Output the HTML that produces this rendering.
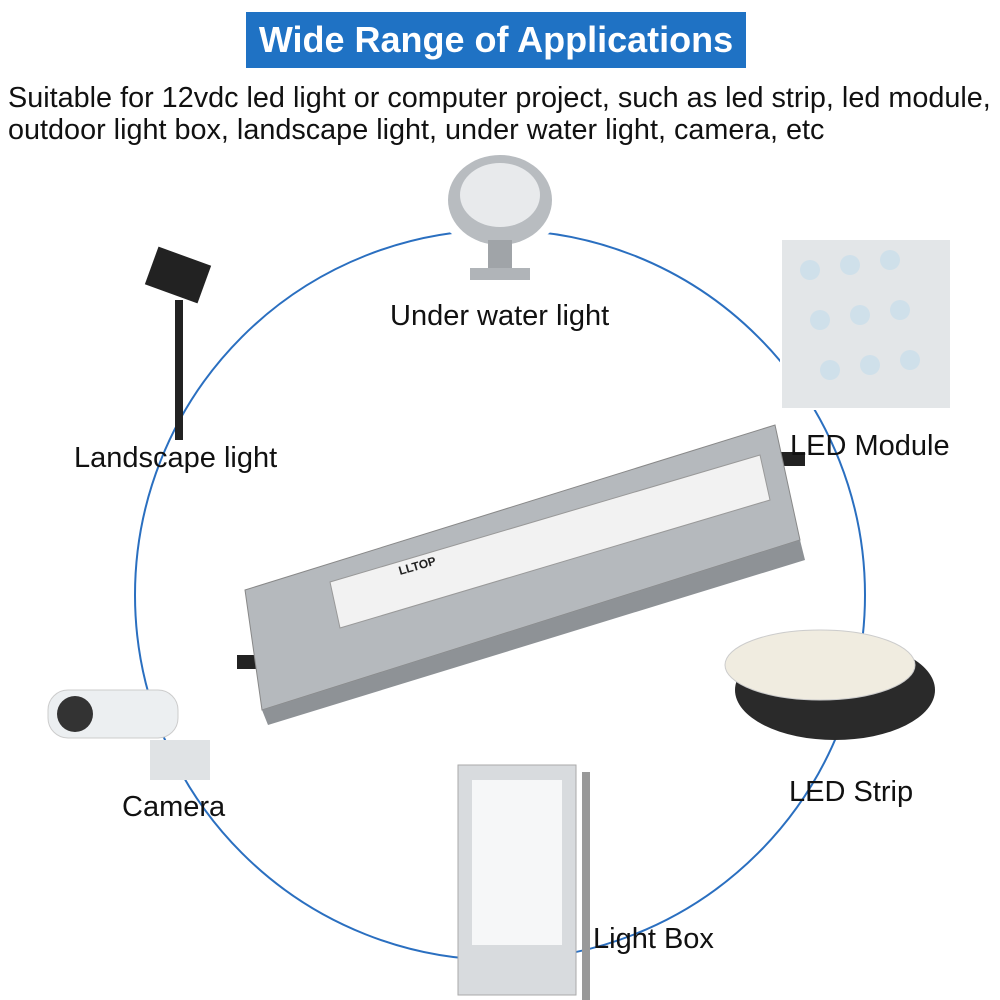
<!DOCTYPE html>
<html><head><style>
body{margin:0;width:1000px;height:1000px;background:#fff;position:relative;overflow:hidden;font-family:"Liberation Sans",Arial,sans-serif}
.t{position:absolute;color:#111;font-size:29px;white-space:nowrap}
</style></head><body>
<div style="position:absolute;left:246px;top:12px;width:500px;height:56px;background:#1f72c4;color:#fff;font-weight:bold;font-size:36px;text-align:center;line-height:56px">Wide Range of Applications</div>
<div class="t" style="left:8px;top:82px;font-size:28.8px">Suitable for 12vdc led light or computer project, such as led strip, led module,</div>
<div class="t" style="left:8px;top:114px;font-size:28.8px">outdoor light box, landscape light, under water light, camera, etc</div>
<svg width="1000" height="1000" style="position:absolute;left:0;top:0">
<circle cx="500" cy="595" r="365" fill="none" stroke="#2a6fc0" stroke-width="2"/>
<rect x="440" y="160" width="120" height="80" rx="30" fill="#fff"/>
<ellipse cx="500" cy="200" rx="52" ry="45" fill="#b8bcc0"/>
<ellipse cx="500" cy="195" rx="40" ry="32" fill="#e8eaec"/>
<rect x="488" y="240" width="24" height="30" fill="#a0a4a8"/>
<rect x="470" y="268" width="60" height="12" fill="#b0b4b8"/>
<rect x="150" y="255" width="56" height="40" fill="#222" transform="rotate(20 178 275)"/>
<rect x="175" y="300" width="8" height="140" fill="#222"/>
<rect x="780" y="238" width="172" height="172" fill="#fff"/>
<rect x="782" y="240" width="168" height="168" fill="#e3e6e8"/>
<g fill="#cfe0ea"><circle cx="810" cy="270" r="10"/><circle cx="850" cy="265" r="10"/><circle cx="890" cy="260" r="10"/><circle cx="820" cy="320" r="10"/><circle cx="860" cy="315" r="10"/><circle cx="900" cy="310" r="10"/><circle cx="830" cy="370" r="10"/><circle cx="870" cy="365" r="10"/><circle cx="910" cy="360" r="10"/></g>
<rect x="237" y="655" width="60" height="14" fill="#222"/>
<rect x="765" y="452" width="40" height="14" fill="#222"/>
<polygon points="245,590 775,425 800,540 262,710" fill="#b5b9bd" stroke="#888"/>
<polygon points="330,582 760,455 770,500 340,628" fill="#f2f2f2" stroke="#999"/>
<polygon points="262,710 800,540 805,560 268,725" fill="#8e9296"/>
<text x="400" y="575" font-size="12" font-weight="bold" fill="#222" transform="rotate(-16 400 575)">LLTOP</text>
<rect x="48" y="690" width="130" height="48" rx="20" fill="#eceff1" stroke="#ccc"/>
<circle cx="75" cy="714" r="18" fill="#333"/>
<rect x="150" y="740" width="60" height="40" fill="#e0e3e5"/>
<ellipse cx="835" cy="690" rx="100" ry="50" fill="#2a2a2a"/>
<ellipse cx="820" cy="665" rx="95" ry="35" fill="#f0ece0" stroke="#ccc"/>
<rect x="458" y="765" width="118" height="230" fill="#d8dbde" stroke="#aaa"/>
<rect x="472" y="780" width="90" height="165" fill="#f6f7f8"/>
<rect x="582" y="772" width="8" height="228" fill="#999"/>
</svg>
<div class="t" style="left:390px;top:300px">Under water light</div>
<div class="t" style="left:74px;top:442px">Landscape light</div>
<div class="t" style="left:790px;top:430px">LED Module</div>
<div class="t" style="left:789px;top:776px">LED Strip</div>
<div class="t" style="left:122px;top:791px">Camera</div>
<div class="t" style="left:593px;top:923px">Light Box</div>
</body></html>
